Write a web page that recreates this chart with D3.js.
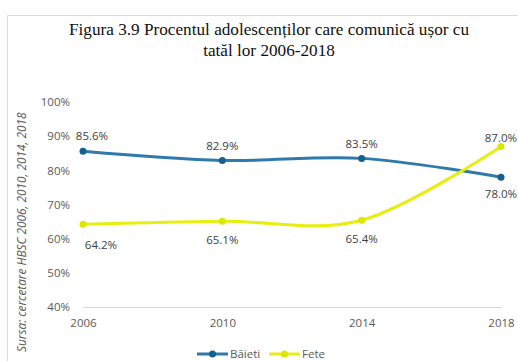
<!DOCTYPE html>
<html><head><meta charset="utf-8">
<script src="https://cdn.jsdelivr.net/npm/d3@7"></script>
<style>body{margin:0;background:#fff}svg{display:block}</style>
</head><body>
<svg id="c" width="518" height="361"></svg>
<script>
const years = ["2006","2010","2014","2018"];
const baieti = [85.6, 82.9, 83.5, 78.0];
const fete = [64.2, 65.1, 65.4, 87.0];
const yTicks = [40,50,60,70,80,90,100];
const seriesNames = ["Băieti","Fete"];
const titleLines = ["Figura 3.9 Procentul adolescenților care comunică ușor cu","tatăl lor 2006-2018"];
const sourceText = "Sursa: cercetare HBSC 2006, 2010, 2014, 2018";

const svg = d3.select("#c");
// frame
svg.append("path").attr("d","M7.5,361 L7.5,15.5 L518,15.5").attr("fill","none").attr("stroke","#d9d9d9").attr("stroke-width",1);

svg.append("g").selectAll("text").data(titleLines).join("text")
  .attr("x",269).attr("y",(d,i)=>35+i*21).attr("text-anchor","middle")
  .style("font-family","'Liberation Serif','Times New Roman',serif").style("font-size","17.2px").style("fill","#111")
  .text(d=>d);

svg.append("text").attr("transform","translate(26,352) rotate(-90)")
  .style("font-family","'Open Sans',sans-serif").style("font-style","italic").style("font-size","11.8px").style("fill","#595959")
  .text(sourceText);

const x = d3.scalePoint().domain(years).range([83,501]);
const y = d3.scaleLinear().domain([40,100]).range([307,102]);

const yAxis = svg.append("g").attr("transform","translate(83,0)")
  .call(d3.axisLeft(y).tickValues(yTicks).tickFormat(d=>d+"%").tickSize(0).tickPadding(13));
yAxis.select(".domain").remove();
yAxis.selectAll("text").style("font-family","'Open Sans',sans-serif").style("font-size","11.5px").style("fill","#595959");

const xAxis = svg.append("g").attr("transform","translate(0,307)")
  .call(d3.axisBottom(x).tickSize(0).tickPadding(12));
xAxis.select(".domain").attr("stroke","#d9d9d9").attr("d","M83,0.5H502");
xAxis.selectAll("text").style("font-family","'Open Sans',sans-serif").style("font-size","11.5px").style("fill","#595959");

const series = [
  {name:seriesNames[0], vals:baieti, line:"#2f7aab", mark:"#165f91", off:[[9,-15],[0,-14],[0,-14],[0,17]], anchor:["middle","middle","middle","middle"]},
  {name:seriesNames[1], vals:fete, line:"#e7ef0f", mark:"#dde600", off:[[18,21],[0,19],[0,19],[16,-8]], anchor:["middle","middle","middle","end"]}
];
const line = d3.line().x((d,i)=>x(years[i])).y(d=>y(d)).curve(d3.curveCardinal.tension(0));
series.forEach(s=>{
  svg.append("path").datum(s.vals).attr("d",line).attr("fill","none").attr("stroke",s.line).attr("stroke-width",3);
  svg.append("g").selectAll("circle").data(s.vals).join("circle")
    .attr("cx",(d,i)=>x(years[i])).attr("cy",d=>y(d)).attr("r",3.5).attr("fill",s.mark);
  svg.append("g").selectAll("text").data(s.vals).join("text")
    .attr("x",(d,i)=>x(years[i])+s.off[i][0]).attr("y",(d,i)=>y(d)+s.off[i][1]+4)
    .attr("text-anchor",(d,i)=>s.anchor[i])
    .style("font-family","'Open Sans',sans-serif").style("font-size","11.5px").style("fill","#404040")
    .text(d=>d.toFixed(1)+"%");
});

// legend
const lg = svg.append("g");
const legItems = [{x:197, s:series[0]},{x:269, s:series[1]}];
legItems.forEach(l=>{
  lg.append("line").attr("x1",l.x).attr("x2",l.x+31).attr("y1",354).attr("y2",354).attr("stroke",l.s.line).attr("stroke-width",3);
  lg.append("circle").attr("cx",l.x+15.5).attr("cy",354).attr("r",3.5).attr("fill",l.s.mark);
  lg.append("text").attr("x",l.x+33).attr("y",358)
    .style("font-family","'Open Sans',sans-serif").style("font-size","11.5px").style("fill","#595959")
    .text(l.s.name);
});
</script>
</body></html>
